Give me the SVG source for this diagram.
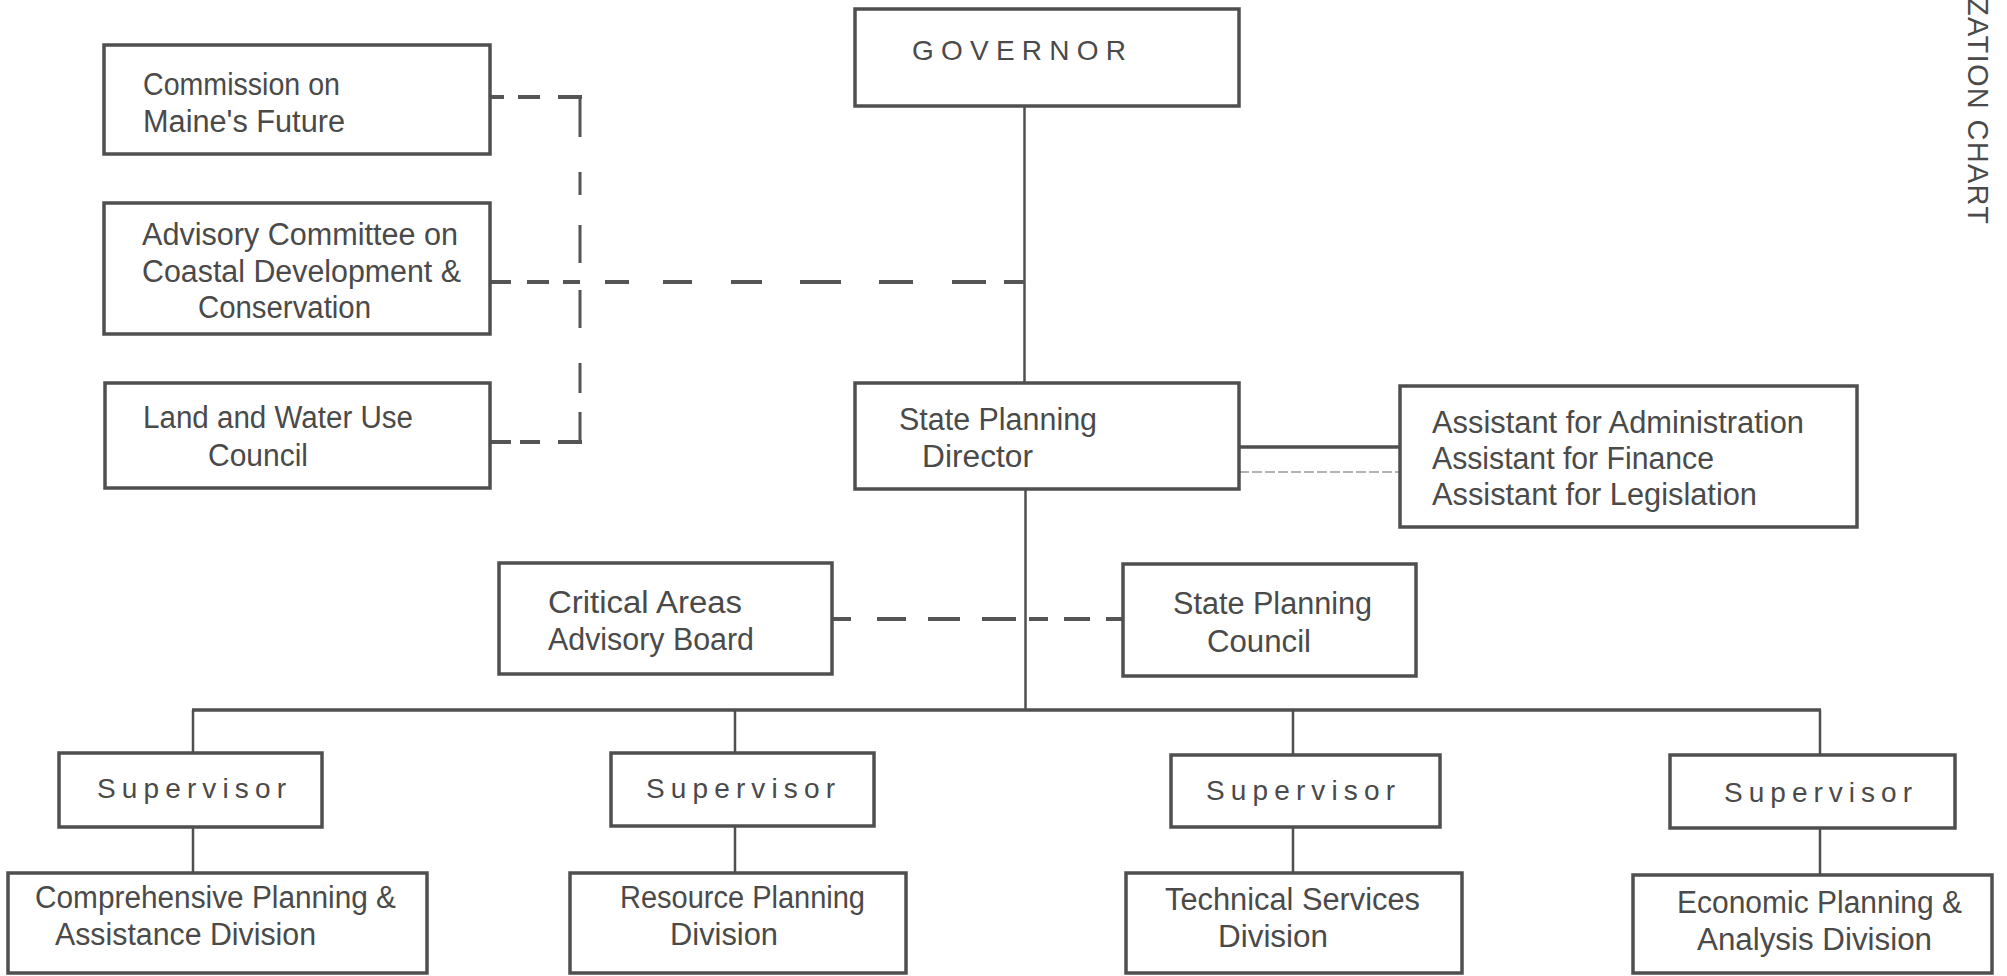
<svg xmlns="http://www.w3.org/2000/svg" width="2007" height="976" viewBox="0 0 2007 976">
<style>
.bg{fill:#ffffff}
.box{fill:#ffffff;stroke:#4f4f4f;stroke-width:3.5}
.t{font-family:"Liberation Sans",Arial,sans-serif;font-size:31px;fill:#4a4a4a}
.sp{font-family:"Liberation Sans",Arial,sans-serif;font-size:28px;fill:#4a4a4a}
.rot{font-family:"Liberation Sans",Arial,sans-serif;font-size:29px;fill:#4a4a4a}
.solid{fill:none;stroke:#4f4f4f;stroke-width:2.5}
.bus{fill:none;stroke:#4f4f4f;stroke-width:3.5}
.dash{fill:none;stroke:#555;stroke-width:4}
.dot{fill:none;stroke:#9a9a9a;stroke-width:1.5;stroke-dasharray:10 3}
</style>
<rect class="bg" x="0" y="0" width="2007" height="976"/>

<g id="connectors">
  <path class="solid" d="M1024.5 106 V383"/>
  <path class="solid" d="M1025.5 489 V710"/>
  <path class="bus" d="M192 710 H1821"/>
  <path class="solid" d="M193 710 V753 M735 710 V753 M1293 710 V755 M1820 710 V755"/>
  <path class="solid" d="M193 827 V873 M735 826 V873 M1293 827 V873 M1820 828 V875"/>
  <path class="bus" d="M1239 447 H1400"/>
  <path class="dot" d="M1239 472 H1400"/>
  <path class="dash" d="M491 282 H511 M527 282 H549 M563 282 H580 M605 282 H629 M663 282 H692 M731 282 H762 M800 282 H841 M879 282 H913 M952 282 H986 M1004 282 H1025"/>
  <path class="dash" d="M491 97 H504 M518 97 H540 M558 97 H582"/>
  <path class="dash" d="M491 442 H511 M520 442 H540 M558 442 H582"/>
  <path class="dash" style="stroke-width:3" d="M580 97 V137 M580 172 V195 M580 225 V263 M580 290 V328 M580 363 V393 M580 412 V442"/>
  <path class="dash" d="M832 619 H851 M877 619 H906 M928 619 H960 M982 619 H1016 M1029 619 H1048 M1064 619 H1090 M1106 619 H1123"/>
</g>

<g id="governor">
  <rect class="box" x="855" y="9" width="384" height="97"/>
  <text class="sp" x="912" y="60" textLength="214" lengthAdjust="spacing">GOVERNOR</text>
</g>

<g id="commission">
  <rect class="box" x="104" y="45" width="386" height="109"/>
  <text class="t" x="143" y="95" textLength="197" lengthAdjust="spacingAndGlyphs">Commission on</text>
  <text class="t" x="143" y="132" textLength="202" lengthAdjust="spacingAndGlyphs">Maine's Future</text>
</g>

<g id="advisory-coastal">
  <rect class="box" x="104" y="203" width="386" height="131"/>
  <text class="t" x="142" y="245" textLength="316" lengthAdjust="spacingAndGlyphs">Advisory Committee on</text>
  <text class="t" x="142" y="282" textLength="319" lengthAdjust="spacingAndGlyphs">Coastal Development &amp;</text>
  <text class="t" x="198" y="318" textLength="173" lengthAdjust="spacingAndGlyphs">Conservation</text>
</g>

<g id="land-water">
  <rect class="box" x="105" y="383" width="385" height="105"/>
  <text class="t" x="143" y="428" textLength="270" lengthAdjust="spacingAndGlyphs">Land and Water Use</text>
  <text class="t" x="208" y="466" textLength="100" lengthAdjust="spacingAndGlyphs">Council</text>
</g>

<g id="director">
  <rect class="box" x="855" y="383" width="384" height="106"/>
  <text class="t" x="899" y="430" textLength="198" lengthAdjust="spacingAndGlyphs">State Planning</text>
  <text class="t" x="922" y="467" textLength="111" lengthAdjust="spacingAndGlyphs">Director</text>
</g>

<g id="assistants">
  <rect class="box" x="1400" y="386" width="457" height="141"/>
  <text class="t" x="1432" y="433" textLength="372" lengthAdjust="spacingAndGlyphs">Assistant for Administration</text>
  <text class="t" x="1432" y="469" textLength="282" lengthAdjust="spacingAndGlyphs">Assistant for Finance</text>
  <text class="t" x="1432" y="505" textLength="325" lengthAdjust="spacingAndGlyphs">Assistant for Legislation</text>
</g>

<g id="critical-areas">
  <rect class="box" x="499" y="563" width="333" height="111"/>
  <text class="t" x="548" y="613" textLength="194" lengthAdjust="spacingAndGlyphs">Critical Areas</text>
  <text class="t" x="548" y="650" textLength="206" lengthAdjust="spacingAndGlyphs">Advisory Board</text>
</g>

<g id="planning-council">
  <rect class="box" x="1123" y="564" width="293" height="112"/>
  <text class="t" x="1173" y="614" textLength="199" lengthAdjust="spacingAndGlyphs">State Planning</text>
  <text class="t" x="1207" y="652" textLength="104" lengthAdjust="spacingAndGlyphs">Council</text>
</g>

<g id="supervisor-1">
  <rect class="box" x="59" y="753" width="263" height="74"/>
  <text class="sp" x="97" y="798" textLength="189" lengthAdjust="spacing">Supervisor</text>
</g>
<g id="supervisor-2">
  <rect class="box" x="611" y="753" width="263" height="73"/>
  <text class="sp" x="646" y="798" textLength="189" lengthAdjust="spacing">Supervisor</text>
</g>
<g id="supervisor-3">
  <rect class="box" x="1171" y="755" width="269" height="72"/>
  <text class="sp" x="1206" y="800" textLength="189" lengthAdjust="spacing">Supervisor</text>
</g>
<g id="supervisor-4">
  <rect class="box" x="1670" y="755" width="285" height="73"/>
  <text class="sp" x="1724" y="802" textLength="188" lengthAdjust="spacing">Supervisor</text>
</g>

<g id="comprehensive-division">
  <rect class="box" x="8" y="873" width="419" height="100"/>
  <text class="t" x="35" y="908" textLength="361" lengthAdjust="spacingAndGlyphs">Comprehensive Planning &amp;</text>
  <text class="t" x="55" y="945" textLength="261" lengthAdjust="spacingAndGlyphs">Assistance Division</text>
</g>
<g id="resource-division">
  <rect class="box" x="570" y="873" width="336" height="100"/>
  <text class="t" x="620" y="908" textLength="245" lengthAdjust="spacingAndGlyphs">Resource Planning</text>
  <text class="t" x="670" y="945" textLength="108" lengthAdjust="spacingAndGlyphs">Division</text>
</g>
<g id="technical-division">
  <rect class="box" x="1126" y="873" width="336" height="100"/>
  <text class="t" x="1165" y="910" textLength="255" lengthAdjust="spacingAndGlyphs">Technical Services</text>
  <text class="t" x="1218" y="947" textLength="110" lengthAdjust="spacingAndGlyphs">Division</text>
</g>
<g id="economic-division">
  <rect class="box" x="1633" y="875" width="359" height="98"/>
  <text class="t" x="1677" y="913" textLength="285" lengthAdjust="spacingAndGlyphs">Economic Planning &amp;</text>
  <text class="t" x="1697" y="950" textLength="235" lengthAdjust="spacingAndGlyphs">Analysis Division</text>
</g>

<text class="rot" transform="translate(1968,-2) rotate(90)" x="0" y="0" textLength="226" lengthAdjust="spacing">ZATION CHART</text>
</svg>
